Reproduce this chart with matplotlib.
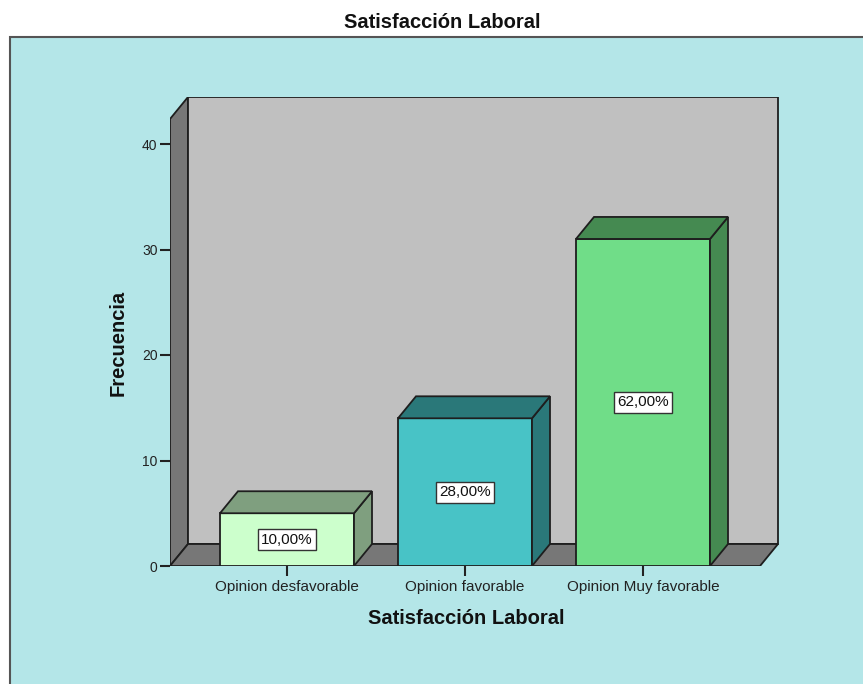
import matplotlib.pyplot as plt
from matplotlib.patches import Polygon, Rectangle
import numpy as np

plt.rcParams['font.family'] = ['Liberation Sans', 'DejaVu Sans']

categorias = ['Opinion desfavorable', 'Opinion favorable', 'Opinion Muy favorable']
frecuencia = [5, 14, 31]
color_frente = ['#ccffcc', '#48c3c6', '#70dd88']
color_lado = ['#7f9f7f', '#2a7879', '#458a51']
yticks = [0, 10, 20, 30, 40]

total = sum(frecuencia)
pct = [('%.2f' % (v * 100.0 / total)).replace('.', ',') + '%' for v in frecuencia]

W, H = 863, 684
fig = plt.figure(figsize=(W / 100, H / 100), dpi=100)
fig.patch.set_facecolor('white')

# panel de fondo
fig.add_artist(Rectangle((10 / W, -0.01), 1.0, (H - 37) / H + 0.01,
                         transform=fig.transFigure, facecolor='#b4e6e8',
                         edgecolor='#555555', lw=1.5, zorder=-10))

# ejes: frente del suelo en y=566 px, eje izq en x=170 px
left_px, right_px, bot_px, top_px = 170, 780, 566, 97
ax = fig.add_axes([left_px / W, (H - bot_px) / H, (right_px - left_px) / W, (bot_px - top_px) / H])
ax.set_facecolor('none')
for s in ax.spines.values():
    s.set_visible(False)

px_x = 178.0  # px por categoria
px_y = 10.55  # px por unidad
x0 = -(287 - 170) / px_x
ax.set_xlim(x0, x0 + (right_px - left_px) / px_x)
ax.set_ylim(0, (bot_px - top_px) / px_y)
dx = 18 / px_x
dy = 22 / px_y
ytop = (bot_px - 119) / px_y
xr = 2 + (760 - 643) / px_x

ec = '#1e1e1e'
lw = 1.3
# pared izquierda
ax.add_patch(Polygon([(x0, 0), (x0, ytop), (x0 + dx, ytop + dy), (x0 + dx, dy)],
                     closed=True, facecolor='#777777', edgecolor=ec, lw=lw, zorder=1))
# pared de fondo
ax.add_patch(Polygon([(x0 + dx, dy), (x0 + dx, ytop + dy), (xr + dx, ytop + dy), (xr + dx, dy)],
                     closed=True, facecolor='#c0c0c0', edgecolor=ec, lw=lw, zorder=1))
# suelo
ax.add_patch(Polygon([(x0, 0), (xr, 0), (xr + dx, dy), (x0 + dx, dy)],
                     closed=True, facecolor='#777777', edgecolor=ec, lw=lw, zorder=1))

bw = 134 / px_x
for i, v in enumerate(frecuencia):
    xa, xb = i - bw / 2, i + bw / 2
    ax.add_patch(Polygon([(xa, 0), (xb, 0), (xb, v), (xa, v)], closed=True,
                         facecolor=color_frente[i], edgecolor=ec, lw=lw, zorder=3))
    ax.add_patch(Polygon([(xb, 0), (xb + dx, dy), (xb + dx, v + dy), (xb, v)], closed=True,
                         facecolor=color_lado[i], edgecolor=ec, lw=lw, zorder=3))
    ax.add_patch(Polygon([(xa, v), (xb, v), (xb + dx, v + dy), (xa + dx, v + dy)], closed=True,
                         facecolor=color_lado[i], edgecolor=ec, lw=lw, zorder=3))
    ax.text(i, v / 2, pct[i], ha='center', va='center', fontsize=11, color='#111111', zorder=5,
            bbox=dict(boxstyle='square,pad=0.22', facecolor='white', edgecolor='#333333', lw=1))

ax.set_yticks(yticks)
ax.set_yticklabels([str(t) for t in yticks], fontsize=10, color='#222222')
ax.set_xticks(range(len(categorias)))
ax.set_xticklabels(categorias, fontsize=11, color='#222222')
ax.tick_params(axis='y', length=7, width=1.5, color='#222222', pad=2)
ax.tick_params(axis='x', length=7, width=1.5, color='#222222', pad=3)

fig.text(466 / W, 1 - 618 / H, 'Satisfacción Laboral', ha='center', va='center',
         fontsize=14.5, fontweight='bold', color='#111111')
fig.text(118 / W, 1 - 343 / H, 'Frecuencia', ha='center', va='center', rotation=90,
         fontsize=14.5, fontweight='bold', color='#111111')
fig.text(442 / W, 1 - 22 / H, 'Satisfacción Laboral', ha='center', va='center',
         fontsize=14.5, fontweight='bold', color='#111111')

fig.savefig('out.png', dpi=100)
